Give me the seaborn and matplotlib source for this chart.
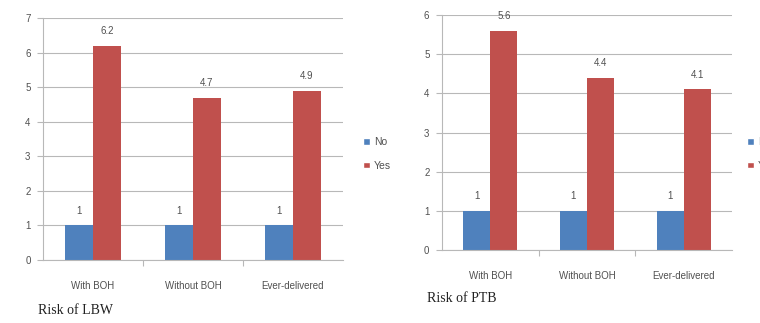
import matplotlib
matplotlib.use("Agg")
import matplotlib.pyplot as plt
import seaborn as sns
import pandas as pd
from matplotlib.patches import Patch

categories = ["With BOH", "Without BOH", "Ever-delivered"]
groups = ["No", "Yes"]
lbw_no = [1, 1, 1]
lbw_yes = [6.2, 4.7, 4.9]
ptb_no = [1, 1, 1]
ptb_yes = [5.6, 4.4, 4.1]

BLUE = "#4F81BD"
RED = "#C0504D"
GRID = "#b8b8b8"
TXT = "#505050"
SANS = "Liberation Sans"


def long_frame(no_vals, yes_vals):
    rows = []
    for c, n, y in zip(categories, no_vals, yes_vals):
        rows.append((c, "No", n))
        rows.append((c, "Yes", y))
    return pd.DataFrame(rows, columns=["category", "group", "value"])


sns.set_theme(style="white")
plt.rcParams["font.family"] = [SANS, "DejaVu Sans"]

fig = plt.figure(figsize=(7.6, 3.23), dpi=100)
ax1 = fig.add_axes([43 / 760, 1 - 260 / 323, 300 / 760, 242 / 323])
ax2 = fig.add_axes([442 / 760, 1 - 250 / 323, 290 / 760, 235 / 323])


def draw(ax, no_vals, yes_vals, ymax):
    df = long_frame(no_vals, yes_vals)
    sns.barplot(data=df, x="category", y="value", hue="group",
                hue_order=groups, palette=[BLUE, RED], width=0.56,
                saturation=1, errorbar=None, legend=False, linewidth=0,
                ax=ax)
    for cont in ax.containers:
        ax.bar_label(cont, labels=[f"{v:g}" for v in cont.datavalues],
                     padding=7, fontsize=7, color=TXT)
    ax.set_ylim(0, ymax)
    ax.set_xlim(-0.5, 2.5)
    ax.set_yticks(range(0, ymax + 1))
    ax.yaxis.grid(True, color=GRID, linewidth=0.8)
    ax.set_axisbelow(True)
    for s in ["top", "right"]:
        ax.spines[s].set_visible(False)
    for s in ["left", "bottom"]:
        ax.spines[s].set_color(GRID)
        ax.spines[s].set_linewidth(0.8)
    ax.set_xlabel("")
    ax.set_ylabel("")
    ax.tick_params(axis="y", left=True, length=4, width=0.8, color=GRID,
                   labelsize=7, labelcolor=TXT, pad=5)
    ax.tick_params(axis="x", which="major", bottom=False, labelsize=7,
                   labelcolor=TXT, pad=9)
    # short separators between the categories on the x axis
    ax.set_xticks([0.5, 1.5], minor=True)
    ax.tick_params(axis="x", which="minor", bottom=True, length=4,
                   width=0.8, color=GRID)


draw(ax1, lbw_no, lbw_yes, 7)
draw(ax2, ptb_no, ptb_yes, 6)

handles = [Patch(facecolor=BLUE), Patch(facecolor=RED)]
for xpos in [354 / 760, 738 / 760]:
    fig.legend(handles, groups, loc="center left",
               bbox_to_anchor=(xpos, 1 - 154 / 323), frameon=False,
               handlelength=0.6, handleheight=0.6, handletextpad=0.4,
               labelspacing=1.3, prop={"family": SANS, "size": 7.5},
               labelcolor=TXT)

fig.text(38 / 760, 1 - 310 / 323, "Risk of LBW", fontsize=10,
         family="Liberation Serif", color="#222222", va="center")
fig.text(427 / 760, 1 - 298 / 323, "Risk of PTB", fontsize=10,
         family="Liberation Serif", color="#222222", va="center")

fig.savefig("out.png", dpi=100, facecolor="white")
